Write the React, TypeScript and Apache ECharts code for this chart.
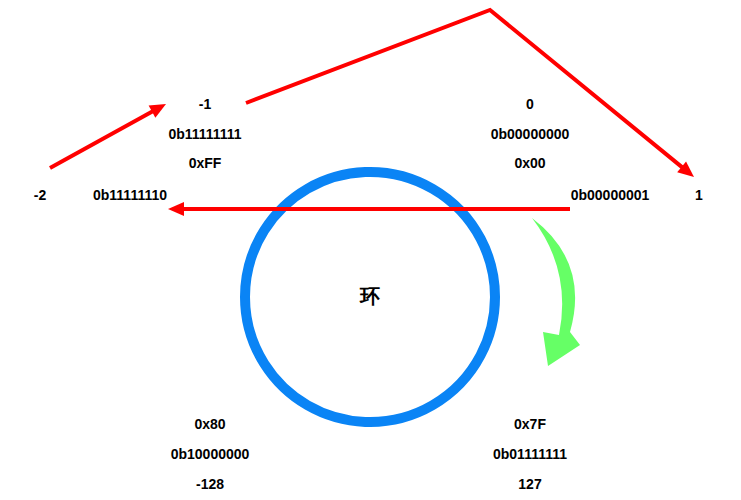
import React, { useEffect, useRef } from 'react';
import * as echarts from 'echarts';

// text labels of the ring diagram
const topLeftLabels = ['-1', '0b11111111', '0xFF'];
const topRightLabels = ['0', '0b00000000', '0x00'];
const midLeftLabels = ['-2', '0b11111110'];
const midRightLabels = ['0b00000001', '1'];
const bottomLeftLabels = ['0x80', '0b10000000', '-128'];
const bottomRightLabels = ['0x7F', '0b01111111', '127'];
const centerLabel = '环';

const RED = '#FF0000';
const GREEN_PATH =
  'M532,218 Q590,262 570,332 L580,345 L548,366 L543,332 L559,335 Q572,270 532,218 Z';

echarts.graphic.registerShape('greenArrow', echarts.graphic.extendPath(GREEN_PATH, {}) as any);

const label = (text: string, x: number, y: number, size = 14) => ({
  type: 'text',
  x,
  y,
  style: {
    text,
    fill: '#000',
    font: `bold ${size}px "Liberation Sans", Arial, sans-serif`,
    textAlign: 'center',
    textVerticalAlign: 'middle',
  },
});

const column = (texts: string[], x: number, y0: number, dy: number) =>
  texts.map((t, i) => label(t, x, y0 + i * dy));

const arrowHead = (from: number[], to: number[], len = 16, half = 7) => {
  const dx = to[0] - from[0];
  const dy = to[1] - from[1];
  const d = Math.hypot(dx, dy);
  const ux = dx / d, uy = dy / d;
  const bx = to[0] - ux * len, by = to[1] - uy * len;
  return {
    type: 'polygon',
    shape: { points: [to, [bx - uy * half, by + ux * half], [bx + uy * half, by - ux * half]] },
    style: { fill: RED },
  };
};

const redLine = (points: number[][]) => {
  const n = points.length;
  const last = points[n - 1], prev = points[n - 2];
  const d = Math.hypot(last[0] - prev[0], last[1] - prev[1]);
  const trimmed = points.slice();
  trimmed[n - 1] = [last[0] - ((last[0] - prev[0]) / d) * 12, last[1] - ((last[1] - prev[1]) / d) * 12];
  return [
    { type: 'polyline', shape: { points: trimmed }, style: { stroke: RED, lineWidth: 4, fill: 'none' } },
    arrowHead(prev, last),
  ];
};

const App: React.FC = () => {
  const ref = useRef<HTMLDivElement>(null);

  useEffect(() => {
    const chart = echarts.init(ref.current!, undefined, { renderer: 'svg' });
    const elements: any[] = [
      {
        type: 'circle',
        shape: { cx: 370, cy: 297, r: 125 },
        style: { fill: 'none', stroke: '#0A84F5', lineWidth: 10 },
      },
      ...redLine([[570, 209], [168, 209]]),
      ...redLine([[50, 168], [166, 104]]),
      ...redLine([[246, 103], [490, 10], [694, 177]]),
      { type: 'greenArrow', style: { fill: '#66FF66' } },
      ...column(topLeftLabels, 205, 104, 29.5),
      ...column(topRightLabels, 530, 104, 29.5),
      label(midLeftLabels[0], 40, 195),
      label(midLeftLabels[1], 130, 195),
      label(midRightLabels[0], 610, 195),
      label(midRightLabels[1], 699, 195),
      ...column(bottomLeftLabels, 210, 424, 30),
      ...column(bottomRightLabels, 530, 424, 30),
      label(centerLabel, 370, 296, 20),
    ];
    chart.setOption({ animation: false, graphic: { elements } });
    return () => chart.dispose();
  }, []);

  return (
    <div
      ref={ref}
      style={{ position: 'fixed', left: 0, top: 0, width: '741px', height: '500px', background: '#fff' }}
    />
  );
};

export default App;
